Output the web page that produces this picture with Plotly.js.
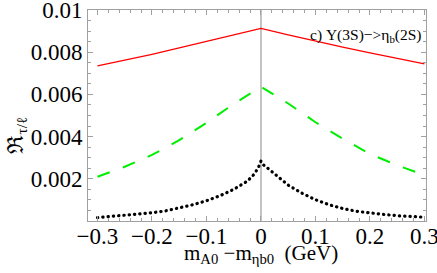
<!DOCTYPE html>
<html>
<head>
<meta charset="utf-8">
<script src="https://cdn.plot.ly/plotly-3.0.1.min.js"></script>
<style>html,body{margin:0;padding:0;background:#fff;}#chart{width:437px;height:273px;}</style>
</head>
<body>
<div id="chart"></div>
<script>
// Data
const xRed = [-0.3,-0.25,-0.2,-0.15,-0.1,-0.05,0,0.05,0.1,0.15,0.2,0.25,0.3];
const red  = [0.00735,0.00762,0.00790,0.00820,0.00850,0.00881,0.00913,0.00882,0.00852,0.00824,0.00797,0.00771,0.00745];

const xGreen = [-0.3,-0.25,-0.2,-0.15,-0.1,-0.05,0,0.05,0.1,0.15,0.2,0.25,0.3];
const green  = [0.00210,0.00257,0.00313,0.00383,0.00465,0.00555,0.00636,0.00557,0.00468,0.00390,0.00318,0.00264,0.00218];

const xBlack = [-0.3,-0.275,-0.25,-0.225,-0.2,-0.175,-0.15,-0.125,-0.1,-0.075,-0.05,-0.025,-0.0125,-0.005,0,
                0.005,0.0125,0.025,0.05,0.075,0.1,0.125,0.15,0.175,0.2,0.225,0.25,0.275,0.3];
const black  = [0.00016,0.00021,0.00026,0.00032,0.00039,0.00048,0.00061,0.00077,0.00096,0.00120,0.00150,0.00189,0.00222,0.00252,0.00284,
                0.00265,0.00250,0.00222,0.00170,0.00132,0.00101,0.00077,0.00059,0.00046,0.00037,0.00031,0.00025,0.00021,0.00018];

const xTickVals = [-0.3,-0.2,-0.1,0,0.1,0.2,0.3];
const xTickText = ['\u22120.3','\u22120.2','\u22120.1','0','0.1','0.2','0.3'];
const yTickVals = [0.002,0.004,0.006,0.008,0.01];
const yTickText = ['0.002','0.004','0.006','0.008','0.01'];

const serif = 'Liberation Serif';
const axisColor = '#a0a0a0';

const traces = [
  {x:xRed, y:red, mode:'lines', line:{color:'#ff0000', width:1.3}, hoverinfo:'skip'},
  {x:xGreen, y:green, mode:'lines', line:{color:'#00ee00', width:2, dash:'13px,14px'}, hoverinfo:'skip'},
  {x:xBlack, y:black, mode:'lines', line:{color:'#000000', width:3.2, dash:'0.3px,5px'}, hoverinfo:'skip'}
];

const layout = {
  width:437, height:273,
  margin:{l:88, r:11, t:10, b:52},
  paper_bgcolor:'#ffffff', plot_bgcolor:'#ffffff',
  showlegend:false,
  font:{family:serif, color:'#000'},
  xaxis:{
    range:[-0.3174,0.3028], showgrid:false, zeroline:false,
    showline:true, linecolor:axisColor, linewidth:1, mirror:'ticks',
    ticks:'inside', ticklen:5, tickcolor:axisColor, tickwidth:1,
    tickvals:xTickVals, ticktext:xTickText, ticklabeloverflow:'allow', ticklabelstandoff:-6,
    tickfont:{family:serif, size:23, color:'#000'},
    minor:{dtick:0.02, ticks:'inside', ticklen:3, tickcolor:axisColor, showgrid:false}
  },
  yaxis:{
    range:[0,0.01], showgrid:false, zeroline:false,
    showline:true, linecolor:axisColor, linewidth:1, mirror:'ticks',
    ticks:'inside', ticklen:5, tickcolor:axisColor, tickwidth:1,
    tickvals:yTickVals, ticktext:yTickText, ticklabeloverflow:'allow',
    tickfont:{family:serif, size:23, color:'#000'},
    minor:{dtick:0.0005, ticks:'inside', ticklen:3, tickcolor:axisColor, showgrid:false}
  },
  shapes:[
    {type:'line', xref:'x', yref:'paper', x0:0, x1:0, y0:0, y1:1, layer:'below',
     line:{color:'#c4c4c4', width:2}}
  ],
  annotations:[
    {text:'c) \u03A5(3S)\u2212>\u03B7<sub>b</sub>(2S)', xref:'paper', yref:'paper', x:1, y:0.88,
     xanchor:'right', yanchor:'middle', showarrow:false, xshift:-2,
     font:{family:serif, size:15.5, color:'#000'}},
    {text:'m<sub>A0</sub> \u2212m<sub>\u03B7b0</sub>  (GeV)', xref:'paper', yref:'paper', x:0.512, y:0,
     xanchor:'center', yanchor:'middle', yshift:-33, showarrow:false,
     font:{family:serif, size:21, color:'#000'}},
    {text:'\u211C<sub>\u03C4/\u2113</sub>', xref:'paper', yref:'paper', x:0, y:0.5,
     xanchor:'center', yanchor:'middle', xshift:-72, yshift:-20, textangle:-90, showarrow:false,
     font:{family:serif, size:22, color:'#000'}}
  ]
};

Plotly.newPlot('chart', traces, layout, {staticPlot:true}).then(function(){
  const paths = document.querySelectorAll('.scatterlayer .trace');
  if (paths.length >= 3) {
    const p = paths[2].querySelector('path.js-line');
    if (p) { p.style.strokeLinecap = 'round'; }
  }
});
</script>
</body>
</html>
